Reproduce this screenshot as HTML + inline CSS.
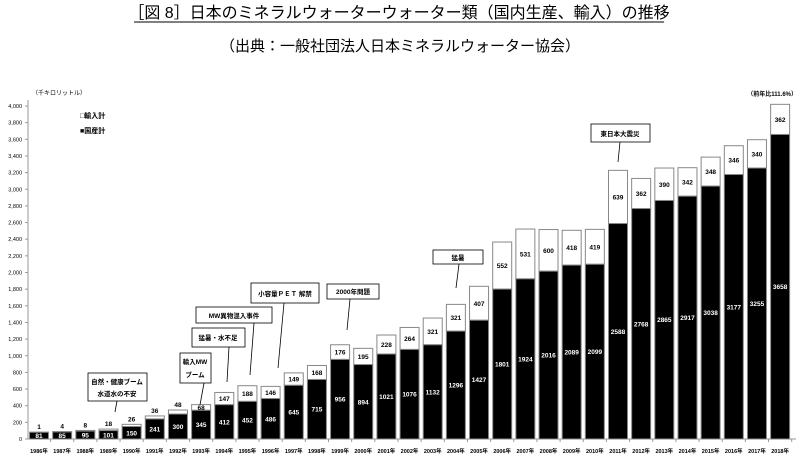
<!DOCTYPE html>
<html><head><meta charset="utf-8"><style>
body{margin:0;background:#fff;}
svg{display:block;font-family:"Liberation Sans","Noto Sans CJK JP",sans-serif;}
</style></head><body>
<svg id="c" width="807" height="459" viewBox="0 0 807 459" xmlns="http://www.w3.org/2000/svg">
<text x="399" y="18" font-size="16" text-anchor="middle" fill="#000">［図 8］日本のミネラルウォーターウォーター類（国内生産、輸入）の推移</text>
<line x1="134" y1="22" x2="664" y2="22" stroke="#000" stroke-width="1"/>
<text x="400" y="51" font-size="15" text-anchor="middle" fill="#000">（出典：一般社団法人日本ミネラルウォーター協会）</text>
<text x="32" y="95" font-size="6" fill="#000">（千キロリットル）</text>
<text x="80" y="118" font-size="7" font-weight="bold" fill="#000">□輸入計</text>
<text x="80" y="133" font-size="7" font-weight="bold" fill="#000">■国産計</text>
<text x="797" y="96" font-size="6" font-weight="bold" text-anchor="end" fill="#000">（前年比111.6%）</text>
<line x1="28" y1="100" x2="28" y2="439" stroke="#999" stroke-width="1"/>
<line x1="28" y1="439" x2="796" y2="439" stroke="#999" stroke-width="1"/>
<g id="g"></g>
<g font-size="6.5" font-weight="bold" fill="#000" stroke="#000" stroke-width="0.8">
<rect x="88" y="373" width="59" height="28" fill="#fff"/>
<line x1="117" y1="401" x2="115" y2="412"/>
<rect x="180" y="353" width="31" height="30" fill="#fff"/>
<line x1="204" y1="383" x2="200" y2="405"/>
<rect x="192" y="328" width="53" height="19" fill="#fff"/>
<line x1="229" y1="347" x2="227" y2="382"/>
<rect x="196" y="307" width="76" height="16" fill="#fff"/>
<line x1="254" y1="323" x2="250" y2="375"/>
<rect x="251" y="283" width="68" height="20" fill="#fff"/>
<line x1="284" y1="303" x2="278" y2="368"/>
<rect x="327" y="284" width="52" height="15" fill="#fff"/>
<line x1="350" y1="299" x2="347" y2="330"/>
<rect x="433" y="250" width="50" height="14" fill="#fff"/>
<line x1="459" y1="264" x2="456" y2="288"/>
<rect x="591" y="124" width="59" height="18" fill="#fff"/>
<line x1="620" y1="142" x2="618" y2="162"/>
</g>
<g font-size="6.5" font-weight="bold" fill="#000">
<text x="117" y="384" text-anchor="middle">自然・健康ブーム</text>
<text x="117" y="396" text-anchor="middle">水道水の不安</text>
<text x="195" y="364" text-anchor="middle">輸入MW</text>
<text x="195" y="377" text-anchor="middle">ブーム</text>
<text x="218" y="340" text-anchor="middle">猛暑・水不足</text>
<text x="234" y="318" text-anchor="middle">MW異物混入事件</text>
<text x="285" y="296" text-anchor="middle">小容量ＰＥＴ 解禁</text>
<text x="353" y="294" text-anchor="middle">2000年問題</text>
<text x="458" y="260" text-anchor="middle">猛暑</text>
<text x="620" y="136" text-anchor="middle">東日本大震災</text>
</g>
</svg>
<script>
var D=[[81,1],[85,4],[95,8],[101,18],[150,26],[241,36],[300,48],[345,68],[412,147],[452,188],[486,146],[645,149],[715,168],[956,176],[894,195],[1021,228],[1076,264],[1132,321],[1296,321],[1427,407],[1801,552,565],[1924,531,598],[2016,600,500],[2089,418],[2099,419],[2588,639],[2768,362],[2865,390],[2917,342],[3038,348],[3177,346],[3255,340],[3658,362]];
var k=333/4000,y0=439,s='';
for(var v=0;v<=4000;v+=200){var y=y0-v*k;s+='<line x1="25" y1="'+y+'" x2="28" y2="'+y+'" stroke="#999"/><text x="22" y="'+(y+2)+'" font-size="5.5" text-anchor="end">'+(v>=1000?Math.floor(v/1000)+','+String(v%1000).padStart(3,'0'):v)+'</text>';}
for(var i=0;i<D.length;i++){var cx=39+i*23.16,d=D[i][0],m=D[i][1],hd=d*k,hm=(D[i][2]||m)*k,x=cx-9.5;
s+='<rect x="'+x+'" y="'+(y0-hd-hm)+'" width="19" height="'+hm+'" fill="#fff" stroke="#888" stroke-width="1"/>';
s+='<rect x="'+x+'" y="'+(y0-hd)+'" width="19" height="'+hd+'" fill="#000" stroke="#888" stroke-width="1"/>';
s+='<text x="'+cx+'" y="'+(y0-hd/2+2.5)+'" font-size="6.5" font-weight="bold" fill="#fff" text-anchor="middle">'+d+'</text>';
var ly=m>=60?(y0-hd-hm/2+2.5):(y0-hd-hm-3);
s+='<text x="'+cx+'" y="'+ly+'" font-size="6.5" font-weight="bold" fill="#000" text-anchor="middle">'+m+'</text>';
s+='<line x1="'+(cx+11.58)+'" y1="439" x2="'+(cx+11.58)+'" y2="442" stroke="#999"/>';
s+='<text x="'+cx+'" y="453" font-size="5.5" font-weight="bold" text-anchor="middle">'+(1986+i)+'年</text>';}
document.getElementById('g').innerHTML=s;
</script>
</body></html>
